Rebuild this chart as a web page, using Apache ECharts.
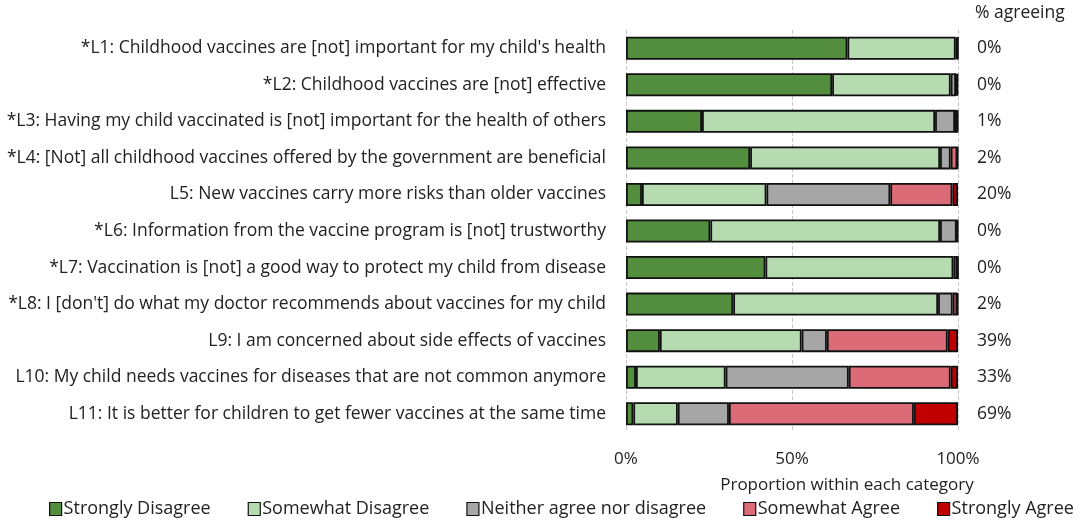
<!DOCTYPE html>
<html>
<head>
<meta charset="utf-8">
<script src="https://cdn.jsdelivr.net/npm/echarts@6/dist/echarts.min.js"></script>
<style>
  html, body { margin: 0; padding: 0; background: #fff; }
  #chart { width: 1084px; height: 523px; }
</style>
</head>
<body>
<div id="chart"></div>
<script>
var items = [
    "*L1: Childhood vaccines are [not] important for my child's health",
    "*L2: Childhood vaccines are [not] effective",
    "*L3: Having my child vaccinated is [not] important for the health of others",
    "*L4: [Not] all childhood vaccines offered by the government are beneficial",
    "L5: New vaccines carry more risks than older vaccines",
    "*L6: Information from the vaccine program is [not] trustworthy",
    "*L7: Vaccination is [not] a good way to protect my child from disease",
    "*L8: I [don't] do what my doctor recommends about vaccines for my child",
    "L9: I am concerned about side effects of vaccines",
    "L10: My child needs vaccines for diseases that are not common anymore",
    "L11: It is better for children to get fewer vaccines at the same time"
];
var agreeing = ['0%', '0%', '1%', '2%', '20%', '0%', '0%', '2%', '39%', '33%', '69%'];

var stronglyDisagree = [66.7, 62.1, 22.9, 37.4, 4.8, 25.4, 42.0, 32.3, 10.2, 3.0, 2.2];
var somewhatDisagree = [32.6, 35.7, 70.2, 57.2, 37.5, 69.2, 56.6, 61.7, 42.7, 27.0, 13.4];
var neither = [0.4, 1.6, 6.0, 3.2, 37.3, 5.0, 1.2, 4.4, 7.6, 37.1, 15.4];
var somewhatAgree = [0.2, 0.3, 0.7, 2.0, 18.7, 0.2, 0.1, 1.4, 36.4, 30.7, 55.7];
var stronglyAgree = [0.1, 0.3, 0.2, 0.2, 1.7, 0.2, 0.1, 0.2, 3.1, 2.2, 13.3];

var seriesNames = ['Strongly Disagree', 'Somewhat Disagree', 'Neither agree nor disagree', 'Somewhat Agree', 'Strongly Agree'];
var seriesData = [stronglyDisagree, somewhatDisagree, neither, somewhatAgree, stronglyAgree];
var colors = ['#538d3e', '#b6dbb0', '#a6a6a6', '#dc6b78', '#c00000'];

var font = 'Open Sans';

var chart = echarts.init(document.getElementById('chart'));

var series = seriesNames.map(function (name, i) {
    return {
        name: name,
        type: 'bar',
        stack: 'total',
        barWidth: 23,
        data: seriesData[i],
        itemStyle: {
            color: colors[i],
            borderColor: '#111',
            borderWidth: 1.8
        },
        emphasis: { disabled: true }
    };
});

var option = {
    animation: false,
    backgroundColor: '#fff',
    textStyle: { fontFamily: font },
    grid: { left: 626, right: 126, top: 30, bottom: 91 },
    legend: {
        data: seriesNames,
        bottom: 0,
        left: 44,
        width: 1060,
        itemWidth: 12,
        itemHeight: 13,
        itemGap: 37,
        icon: 'rect',
        textStyle: { fontSize: 18, color: '#222', fontFamily: font, padding: [0, 0, 0, -3] },
        itemStyle: { borderColor: '#111', borderWidth: 1.2 }
    },
    xAxis: {
        type: 'value',
        min: 0,
        max: 100,
        interval: 50,
        axisLine: { show: false },
        axisTick: { show: false },
        splitLine: { show: true, lineStyle: { type: 'dashed', color: '#c8c8c8', width: 1 } },
        axisLabel: { formatter: '{value}%', fontSize: 17, color: '#222', margin: 19 },
        name: 'Proportion within each category',
        nameLocation: 'middle',
        nameGap: 45,
        nameTextStyle: { fontSize: 17, color: '#222', padding: [0, 0, 0, 110] }
    },
    yAxis: [{
        type: 'category',
        data: items,
        inverse: true,
        axisLine: { show: false },
        axisTick: { show: false },
        axisLabel: { fontSize: 17.5, color: '#222', margin: 20 }
    }, {
        type: 'category',
        data: agreeing,
        inverse: true,
        position: 'right',
        axisLine: { show: false },
        axisTick: { show: false },
        axisLabel: { fontSize: 17.5, color: '#222', margin: 19, align: 'left' },
        name: '% agreeing',
        nameLocation: 'start',
        nameGap: 8,
        nameTextStyle: { fontSize: 17.5, color: '#222', align: 'left', padding: [0, 0, 0, 17] }
    }],
    series: series
};

chart.setOption(option);
</script>
</body>
</html>
